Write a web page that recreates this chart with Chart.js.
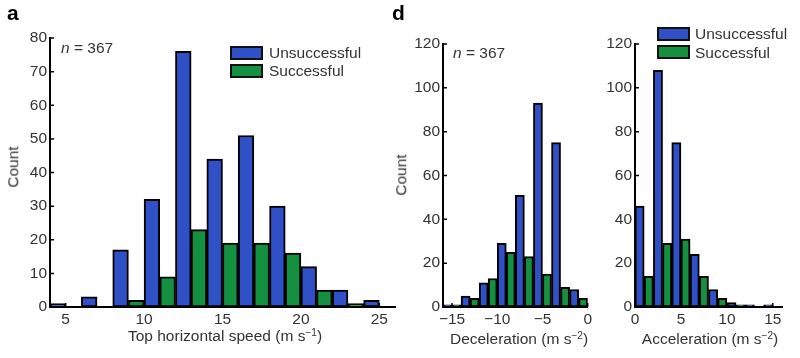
<!DOCTYPE html>
<html>
<head>
<meta charset="utf-8">
<script src="https://cdn.jsdelivr.net/npm/chart.js@4.4.1/dist/chart.umd.min.js"></script>
<style>
  html, body { margin: 0; padding: 0; background: #fff; }
  #fig { position: relative; width: 800px; height: 358px; overflow: hidden;
         font-family: 'Liberation Sans', Arial, sans-serif; color: #333; }
  canvas { position: absolute; top: 0; }
  .txt { position: absolute; white-space: nowrap; line-height: 1; font-size: 15.5px; }
  .panel { font-weight: bold; font-size: 21px; color: #000; }
  .sw { position: absolute; width: 29px; height: 10px; border: 2px solid #111; }
  .rot { transform: translate(-50%, -50%) rotate(-90deg); }
  .ctr { transform: translateX(-50%); }
  sup { font-size: 0.65em; vertical-align: 0.5em; line-height: 0; }
</style>
</head>
<body>
<div id="fig">
  <canvas id="speedChart" width="400" height="358" style="left:0"></canvas>
  <canvas id="decelChart" width="195" height="358" style="left:400px"></canvas>
  <canvas id="accelChart" width="205" height="358" style="left:595px"></canvas>

  <div class="txt panel" style="left:7px; top:2px">a</div>
  <div class="txt panel" style="left:392px; top:2px">d</div>

  <div class="txt" style="left:61px; top:40px"><i>n</i> = 367</div>
  <div class="txt" style="left:453px; top:45px"><i>n</i> = 367</div>

  <!-- legendas -->
  <div class="sw" style="left:230px; top:46px; background:#3050c8"></div>
  <div class="sw" style="left:230px; top:64px; background:#139040"></div>
  <div class="txt" style="left:269px; top:45px">Unsuccessful</div>
  <div class="txt" style="left:269px; top:63px">Successful</div>

  <div class="sw" style="left:657px; top:27px; background:#3050c8"></div>
  <div class="sw" style="left:657px; top:45px; background:#139040"></div>
  <div class="txt" style="left:695px; top:26px">Unsuccessful</div>
  <div class="txt" style="left:695px; top:45px">Successful</div>

  <!-- títulos dos eixos -->
  <div class="txt rot" style="left:12.5px; top:167px">Count</div>
  <div class="txt rot" style="left:401px; top:175px">Count</div>
  <div class="txt ctr" style="left:225px; top:328px">Top horizontal speed (m s<sup>&minus;1</sup>)</div>
  <div class="txt ctr" style="left:519px; top:331px">Deceleration (m s<sup>&minus;2</sup>)</div>
  <div class="txt ctr" style="left:710px; top:331px">Acceleration (m s<sup>&minus;2</sup>)</div>
</div>

<script>
// Dados (centro de cada bin de 2 unidades)
const speedBins = [5, 7, 9, 11, 13, 15, 17, 19, 21, 23, 25];
const speedUnsuccessful = [1, 3, 17, 32, 76, 44, 51, 30, 12, 5, 2];
const speedSuccessful = [0, 0, 2, 9, 23, 19, 19, 16, 5, 1, 0];

const decelBins = [-15, -13, -11, -9, -7, -5, -3, -1];
const decelUnsuccessful = [1, 5, 11, 29, 51, 93, 75, 8];
const decelSuccessful = [1, 4, 13, 25, 23, 15, 9, 4];

const accelBins = [1, 3, 5, 7, 9, 11, 13, 15];
const accelUnsuccessful = [46, 108, 75, 24, 8, 2, 1, 1];
const accelSuccessful = [14, 29, 31, 14, 4, 1, 0, 0];

const speedTicks = [5, 10, 15, 20, 25];
const decelTicks = [-15, -10, -5, 0];
const accelTicks = [0, 5, 10, 15];

const blue = '#3050c8';
const green = '#139040';

Chart.defaults.font.family = "'Liberation Sans', Arial, sans-serif";
Chart.defaults.font.size = 15.5;
Chart.defaults.color = '#333';

// Marcas dos ticks para dentro (estilo MATLAB)
const inwardTicks = {
    id: 'inwardTicks',
    beforeDatasetsDraw(chart) {
        const { ctx, chartArea, scales: { x, y } } = chart;
        ctx.save();
        ctx.strokeStyle = '#000';
        ctx.lineWidth = 1.5;
        ctx.beginPath();
        x.ticks.forEach(t => {
            const px = x.getPixelForValue(t.value);
            ctx.moveTo(px, chartArea.bottom);
            ctx.lineTo(px, chartArea.bottom - 4);
        });
        y.ticks.forEach(t => {
            const py = y.getPixelForValue(t.value);
            ctx.moveTo(chartArea.left, py);
            ctx.lineTo(chartArea.left + 4, py);
        });
        ctx.stroke();
        ctx.restore();
    }
};

function histChart(id, bins, uns, suc, opts) {
    return new Chart(document.getElementById(id), {
        type: 'bar',
        data: {
            datasets: [
                { label: 'Unsuccessful', data: bins.map((b, i) => ({ x: b, y: uns[i] })), backgroundColor: blue },
                { label: 'Successful', data: bins.map((b, i) => ({ x: b, y: suc[i] })), backgroundColor: green }
            ]
        },
        options: {
            responsive: false,
            animation: false,
            layout: { padding: opts.padding },
            datasets: {
                bar: {
                    borderColor: '#000',
                    borderWidth: 2,
                    borderSkipped: false,
                    barPercentage: 1,
                    categoryPercentage: 1
                }
            },
            plugins: {
                legend: { display: false },
                tooltip: { enabled: false }
            },
            scales: {
                x: {
                    type: 'linear',
                    min: opts.xMin,
                    max: opts.xMax,
                    offset: false,
                    grid: { display: false, drawTicks: false },
                    border: { color: '#000', width: 2, z: 1 },
                    ticks: {
                        padding: 3,
                        maxRotation: 0,
                        callback: v => String(v).replace('-', '\u2212')
                    },
                    afterBuildTicks: s => { s.ticks = opts.xTicks.map(v => ({ value: v })); },
                    afterFit: s => { s.height = 20; }
                },
                y: {
                    min: 0,
                    max: opts.yMax,
                    grid: { display: false, drawTicks: false },
                    border: { color: '#000', width: 2, z: 1 },
                    ticks: { stepSize: opts.yStep, padding: 3 },
                    afterFit: s => { s.width = opts.yWidth; }
                }
            }
        },
        plugins: [inwardTicks]
    });
}

histChart('speedChart', speedBins, speedUnsuccessful, speedSuccessful, {
    xMin: 4, xMax: 26, xTicks: speedTicks, yMax: 80, yStep: 10, yWidth: 50,
    padding: { left: 0, right: 5, top: 38, bottom: 31 }
});

histChart('decelChart', decelBins, decelUnsuccessful, decelSuccessful, {
    xMin: -16, xMax: 0, xTicks: decelTicks, yMax: 120, yStep: 20, yWidth: 43,
    padding: { left: 0, right: 6, top: 44, bottom: 31 }
});

histChart('accelChart', accelBins, accelUnsuccessful, accelSuccessful, {
    xMin: 0, xMax: 16, xTicks: accelTicks, yMax: 120, yStep: 20, yWidth: 40,
    padding: { left: 0, right: 18, top: 44, bottom: 31 }
});
</script>
</body>
</html>
